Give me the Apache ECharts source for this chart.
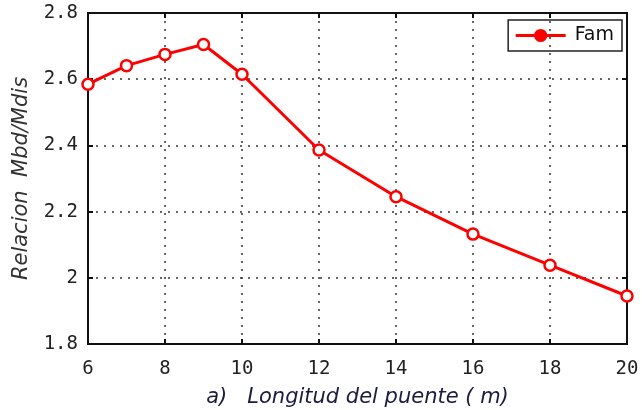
<!DOCTYPE html>
<html>
<head>
<meta charset="utf-8">
<script src="https://cdn.jsdelivr.net/npm/echarts@6/dist/echarts.min.js"></script>
<style>
  html, body { margin: 0; padding: 0; background: #fff; }
  #chart { width: 642px; height: 410px; }
</style>
</head>
<body>
<div id="chart"></div>
<script>
// longitud del puente (m)
const lengths = [6, 7, 8, 9, 10, 12, 14, 16, 18, 20];
// relacion Mbd/Mdis
const famValues = [2.585, 2.641, 2.675, 2.705, 2.615, 2.386, 2.245, 2.132, 2.038, 1.945];

const famData = lengths.map((x, i) => [x, famValues[i]]);

const dotted = { type: [2, 6], color: "#333", width: 1.5 };
const labelFont = { fontFamily: "DejaVu Sans Mono", fontSize: 19, color: "#222" };
const frameLine = { show: true, onZero: false, lineStyle: { color: "#111", width: 2 } };
const innerTick = { show: true, inside: true, length: 5, lineStyle: { color: "#111", width: 2 } };

const chart = echarts.init(document.getElementById("chart"));
chart.setOption({
  animation: false,
  grid: {
    left: 88, right: 15, top: 13, bottom: 66,
    outerBoundsMode: "none",
    containLabel: false,
    show: true, borderColor: "#111", borderWidth: 2, backgroundColor: "transparent"
  },
  legend: {
    right: 20, top: 20,
    itemWidth: 50, itemHeight: 14,
    itemGap: 6,
    padding: [6, 8, 6, 6],
    borderColor: "#222", borderWidth: 1.5, borderRadius: 0,
    textStyle: { fontFamily: "DejaVu Sans", fontSize: 19, color: "#111", padding: [0, 0, 0, 4] },
    data: [{
      name: "Fam",
      itemStyle: { color: "#ff0000", borderColor: "#ff0000" },
      lineStyle: { color: "#ff0000", width: 3 }
    }]
  },
  xAxis: [
    {
      type: "value", min: 6, max: 20, interval: 2,
      name: "a)   Longitud del puente ( m)",
      nameLocation: "middle", nameGap: 43,
      nameTextStyle: { fontFamily: "DejaVu Sans", fontStyle: "italic", fontSize: 21, color: "#1c1c40" },
      axisLine: frameLine,
      axisTick: innerTick,
      axisLabel: Object.assign({ margin: 16 }, labelFont),
      splitLine: { show: true, lineStyle: dotted }
    },
    {
      type: "value", min: 6, max: 20, interval: 2, position: "top",
      axisLine: frameLine,
      axisTick: innerTick,
      axisLabel: { show: false },
      splitLine: { show: false }
    }
  ],
  yAxis: [
    {
      type: "value", min: 1.8, max: 2.8, interval: 0.2,
      name: "Relacion  Mbd/Mdis",
      nameLocation: "middle", nameGap: 56, nameRotate: 90,
      nameTextStyle: { fontFamily: "DejaVu Sans", fontStyle: "italic", fontSize: 21, color: "#333" },
      axisLine: frameLine,
      axisTick: innerTick,
      axisLabel: Object.assign({ margin: 10 }, labelFont),
      splitLine: { show: true, lineStyle: dotted }
    },
    {
      type: "value", min: 1.8, max: 2.8, interval: 0.2, position: "right",
      axisLine: frameLine,
      axisTick: innerTick,
      axisLabel: { show: false },
      splitLine: { show: false }
    }
  ],
  series: [
    {
      name: "Fam",
      type: "line",
      data: famData,
      color: "#ff0000",
      symbol: "circle",
      symbolSize: 11,
      showAllSymbol: true,
      lineStyle: { color: "#ff0000", width: 3 },
      itemStyle: { color: "#ffffff", borderColor: "#ff0000", borderWidth: 2.5 },
      emphasis: { disabled: true }
    }
  ]
});
</script>
</body>
</html>
